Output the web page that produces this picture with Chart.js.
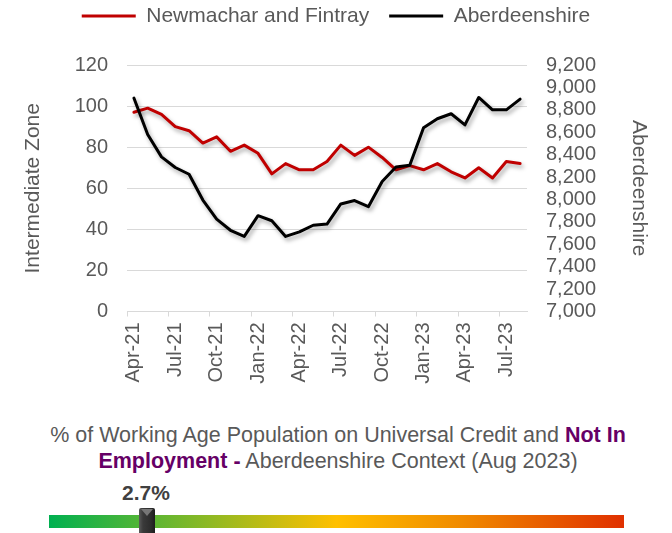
<!DOCTYPE html>
<html>
<head>
<meta charset="utf-8">
<script src="https://cdn.jsdelivr.net/npm/chart.js@4.4.1/dist/chart.umd.min.js"></script>
<style>
html,body{margin:0;padding:0;background:#fff;}
body{width:672px;height:533px;position:relative;overflow:hidden;font-family:"Liberation Sans",Arial,sans-serif;}
#wrap{position:absolute;left:0;top:0;width:672px;height:400px;}
.cap{position:absolute;left:0;width:676px;text-align:center;font-size:21.5px;line-height:25.5px;color:#595959;white-space:nowrap;}
.cap b{color:#660066;}
#val{position:absolute;left:122px;top:480px;font-size:21px;line-height:25.5px;font-weight:bold;color:#404040;}
#bar{position:absolute;left:49px;top:515px;width:575px;height:13px;background:linear-gradient(to right,#00b050 0%,#ffc000 50%,#f08a00 72%,#e03000 100%);}
#marker{position:absolute;left:139px;top:508px;width:16px;height:30px;border-radius:2px 2px 0 0;background:linear-gradient(to right,#5a5a5a 0%,#3a3a3a 25%,#2c2c2c 75%,#1c1c1c 100%);}
#marker:before{content:"";position:absolute;left:2px;top:1px;width:0;height:0;border-left:6px solid transparent;border-right:6px solid transparent;border-top:7px solid #777;}
</style>
</head>
<body>
<div id="wrap"><canvas id="c" width="672" height="400"></canvas></div>
<div class="cap" style="top:423px;">% of Working Age Population on Universal Credit and <b>Not In</b></div>
<div class="cap" style="top:448.5px;"><b>Employment -</b> Aberdeenshire Context (Aug 2023)</div>
<div id="val"></div>
<div id="bar"></div>
<div id="marker"></div>
<script>
const months = ["Apr-21","May-21","Jun-21","Jul-21","Aug-21","Sep-21","Oct-21","Nov-21","Dec-21",
  "Jan-22","Feb-22","Mar-22","Apr-22","May-22","Jun-22","Jul-22","Aug-22","Sep-22","Oct-22","Nov-22","Dec-22",
  "Jan-23","Feb-23","Mar-23","Apr-23","May-23","Jun-23","Jul-23","Aug-23"];
const newmacharFintray = [97,99,96,90,88,82,85,78,81,77,67,72,69,69,73,81,76,80,75,69,71,69,72,68,65,70,65,73,72];
const aberdeenshire = [8905,8580,8380,8285,8225,7995,7825,7725,7670,7855,7810,7670,7710,7770,7780,7960,7990,7935,8160,8290,8305,8640,8720,8765,8665,8910,8800,8800,8895];
const seriesNames = ["Newmachar and Fintray","Aberdeenshire"];
const leftAxis = {min:0, max:120, step:20, title:"Intermediate Zone"};
const rightAxis = {min:7000, max:9200, step:200, title:"Aberdeenshire"};
const contextValue = "2.7%";

document.getElementById('val').textContent = contextValue;

const FONT = '"Liberation Sans", Arial, sans-serif';
const GREY = '#595959';
const GRID = '#d9d9d9';

const shadowPlugin = {
  id: 'lineShadow',
  beforeDatasetDraw(chart) {
    const c = chart.ctx;
    c.save();
    c.shadowColor = 'rgba(0,0,0,0.35)';
    c.shadowBlur = 4;
    c.shadowOffsetX = 2;
    c.shadowOffsetY = 3;
  },
  afterDatasetDraw(chart) { chart.ctx.restore(); }
};
const legendFit = {
  id: 'legendFit',
  beforeLayout(chart) {
    const lg = chart.legend;
    if (lg && !lg._fitPatched) {
      const f = lg.fit;
      lg.fit = function () { f.call(this); this.height = 79.5; };
      lg._fitPatched = true;
    }
  }
};

new Chart(document.getElementById('c'), {
  type: 'line',
  data: {
    labels: months,
    datasets: [
      {label: seriesNames[0], data: newmacharFintray, yAxisID: 'y', borderColor: '#c00000', backgroundColor: '#c00000',
       borderWidth: 3, pointRadius: 0, tension: 0, borderJoinStyle: 'round', borderCapStyle: 'round', order: 1},
      {label: seriesNames[1], data: aberdeenshire, yAxisID: 'y1', borderColor: '#000000', backgroundColor: '#000000',
       borderWidth: 3, pointRadius: 0, tension: 0, borderJoinStyle: 'round', borderCapStyle: 'round', order: 0}
    ]
  },
  options: {
    responsive: false, animation: false, devicePixelRatio: 1,
    layout: {padding: {top: -14.5, left: 0, right: 0, bottom: 0}},
    plugins: {
      legend: {
        position: 'top',
        labels: {
          usePointStyle: true, pointStyle: 'line', pointStyleWidth: 54,
          padding: 20, color: GREY, font: {family: FONT, size: 21},
          sort: (a, b) => a.datasetIndex - b.datasetIndex
        }
      },
      tooltip: {enabled: false}
    },
    scales: {
      x: {
        offset: true,
        grid: {offset: true, drawOnChartArea: false, drawTicks: true, tickLength: 5, lineWidth: 1,
               color: (c) => (c.index % 3 === 0 ? GRID : 'rgba(0,0,0,0)')},
        border: {color: GRID, width: 1},
        ticks: {autoSkip: false, minRotation: 90, maxRotation: 90, padding: 6, color: GREY,
                font: {family: FONT, size: 20},
                callback: (v, i) => (i % 3 === 0 ? months[i] : '')},
        afterFit: (s) => { s.height = 88.5; }
      },
      y: {
        position: 'left', min: leftAxis.min, max: leftAxis.max,
        ticks: {stepSize: leftAxis.step, padding: 19, color: GREY, font: {family: FONT, size: 20}},
        grid: {color: GRID, drawTicks: false, lineWidth: 1},
        border: {display: false},
        title: {display: true, text: leftAxis.title, color: GREY, font: {family: FONT, size: 21}, padding: {top: 21, bottom: 0}},
        afterFit: (s) => { s.width = 127; }
      },
      y1: {
        position: 'right', min: rightAxis.min, max: rightAxis.max,
        ticks: {stepSize: rightAxis.step, autoSkip: false, padding: 19, color: GREY, font: {family: FONT, size: 20},
                callback: (v) => Number(v).toLocaleString('en-US')},
        grid: {display: false, drawTicks: false},
        border: {display: false},
        title: {display: true, text: rightAxis.title, color: GREY, font: {family: FONT, size: 21}, padding: {top: 21, bottom: 0}},
        afterFit: (s) => { s.width = 145; }
      }
    }
  },
  plugins: [shadowPlugin, legendFit]
});
</script>
</body>
</html>
